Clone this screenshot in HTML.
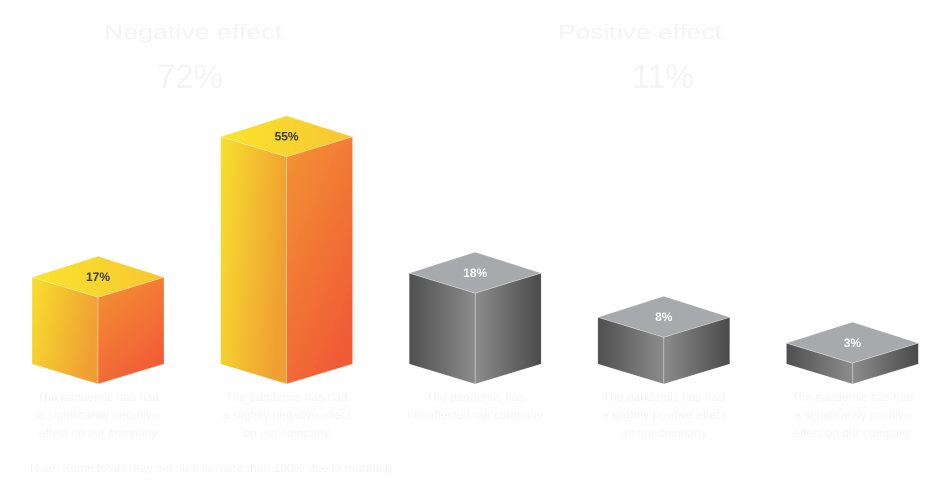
<!DOCTYPE html>
<html><head><meta charset="utf-8"><style>
html,body{margin:0;padding:0;background:#fff;}
body{width:950px;height:502px;overflow:hidden;font-family:"Liberation Sans",sans-serif;}
svg{display:block}
</style></head><body>
<svg id="chart" width="950" height="502" viewBox="0 0 950 502">
<defs>
<linearGradient id="oL" x1="0" y1="0" x2="1" y2="0.3"><stop offset="0" stop-color="#f7df2e"/><stop offset="1" stop-color="#f0a033"/></linearGradient>
<linearGradient id="oR" x1="0" y1="0" x2="0.6" y2="1"><stop offset="0" stop-color="#f39434"/><stop offset="1" stop-color="#f05c36"/></linearGradient>
<linearGradient id="oT" x1="0" y1="0" x2="1" y2="0"><stop offset="0" stop-color="#f9e52c"/><stop offset="1" stop-color="#f8c532"/></linearGradient>
<linearGradient id="gL" x1="0" y1="0" x2="1" y2="0"><stop offset="0" stop-color="#4f4f4f"/><stop offset="1" stop-color="#8c8c8c"/></linearGradient>
<linearGradient id="gR" x1="0" y1="0" x2="1" y2="0"><stop offset="0" stop-color="#8c8c8c"/><stop offset="1" stop-color="#4a4a4a"/></linearGradient>
</defs>
<g fill="#f4f4f4" text-anchor="middle">
<text x="193" y="39" font-size="20" textLength="178" lengthAdjust="spacingAndGlyphs">Negative effect</text>
<text x="190" y="88" font-size="34" textLength="66" lengthAdjust="spacingAndGlyphs">72%</text>
<text x="640" y="39" font-size="20" textLength="164" lengthAdjust="spacingAndGlyphs">Positive effect</text>
<text x="663" y="88" font-size="34" textLength="62" lengthAdjust="spacingAndGlyphs">11%</text>
</g>
<g id="bars"></g>
<g id="descs" fill="#f4f4f4" font-size="12" text-anchor="middle"></g>
<text x="30" y="472" font-size="12" fill="#f4f4f4" textLength="362" lengthAdjust="spacingAndGlyphs">Note: Some totals may not sum to more than 100% due to rounding</text>
</svg>
<script>
const categories=["Significantly negative","Slightly negative","No effect","Slightly positive","Significantly positive"];
const values=[17,55,18,8,3];
const labels=["17%","55%","18%","8%","3%"];
const kinds=["orange","orange","gray","gray","gray"];
const descLines=[
["The pandemic has had","a significantly negative","effect on our company"],
["The pandemic has had","a slightly negative effect","on our company"],
["The pandemic has","not affected our company"],
["The pandemic has had","a slightly positive effect","on our company"],
["The pandemic has had","a significantly positive","effect on our company"]];
const NS="http://www.w3.org/2000/svg";
function xCenter(i){return 98+i*188.6;}
function yHeight(v){return 8.5*Math.pow(v,0.82);}
const hw=66,dy=20,base=364;
const g=document.getElementById('bars');
values.forEach((v,i)=>{
  const cx=xCenter(i),h=yHeight(v),top=base-h;
  const o=kinds[i]==="orange";
  const grp=document.createElementNS(NS,'g');
  
  
  const faces=[
   [[[cx-hw,top],[cx,top+dy],[cx,base+dy],[cx-hw,base]],o?'url(#oL)':'url(#gL)','left-face'],
   [[[cx,top+dy],[cx+hw,top],[cx+hw,base],[cx,base+dy]],o?'url(#oR)':'url(#gR)','right-face'],
   [[[cx-hw,top],[cx,top-dy-1],[cx+hw,top],[cx,top+dy]],o?'url(#oT)':'#a8a9ac','top-face']];
  faces.forEach(f=>{
    const p=document.createElementNS(NS,'polygon');
    p.setAttribute('points',f[0].map(q=>q.join(',')).join(' '));
    p.setAttribute('fill',f[1]);
    p.setAttribute('stroke','rgba(255,255,255,0.5)');p.setAttribute('stroke-width','0.6');
    
    
    grp.appendChild(p);
  });
  const t=document.createElementNS(NS,'text');
  t.setAttribute('x',cx);t.setAttribute('y',top+4);
  t.setAttribute('text-anchor','middle');t.setAttribute('font-size','12');t.setAttribute('font-weight','bold');
  t.setAttribute('fill',o?'#3a3a3a':'#ffffff');
  t.textContent=labels[i];
  
  
  grp.appendChild(t);
  g.appendChild(grp);
  const d=document.getElementById('descs');
  descLines[i].forEach((line,j)=>{
    const dt=document.createElementNS(NS,'text');
    dt.setAttribute('x',cx);dt.setAttribute('y',401+j*18);
    dt.textContent=line;
    
    
    d.appendChild(dt);
  });
});
</script>
</body></html>
